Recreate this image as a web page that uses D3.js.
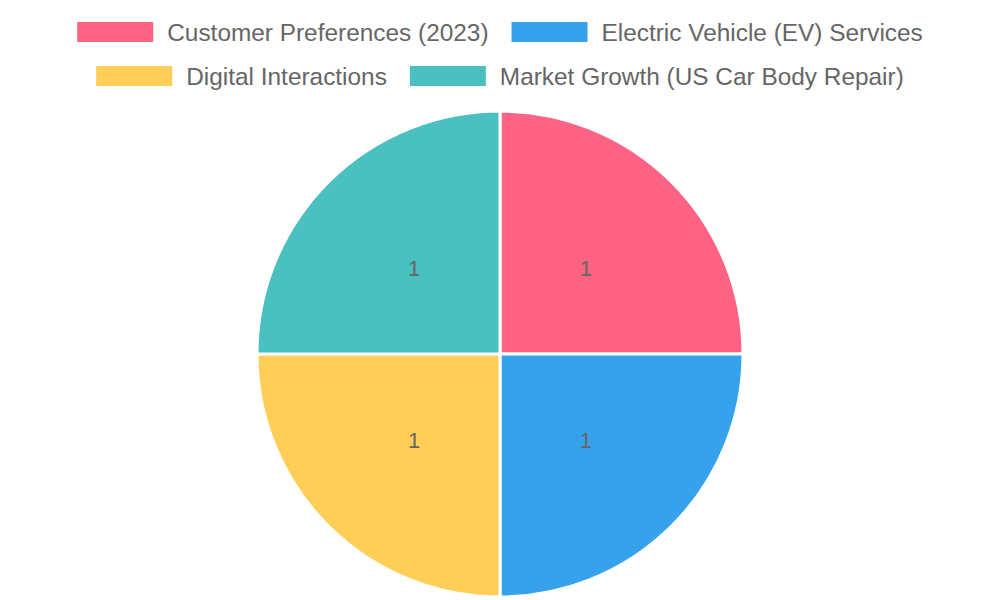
<!DOCTYPE html>
<html>
<head>
<meta charset="utf-8">
<script src="https://cdn.jsdelivr.net/npm/d3@7"></script>
<style>
  body { margin: 0; background: #fff; }
  svg { display: block; }
  text { font-family: "Liberation Sans", Arial, sans-serif; fill: #666; }
</style>
</head>
<body>
<script>
var labels = ["Customer Preferences (2023)", "Electric Vehicle (EV) Services", "Digital Interactions", "Market Growth (US Car Body Repair)"];
var values = [1, 1, 1, 1];
var colors = ["#FF6384", "#36A2EB", "#FFCE56", "#4BC0C0"];

var width = 1000, height = 600;
var boxW = 76, boxH = 20, boxGap = 14, itemGap = 23, rowH = 44, fontSize = 24.4;
var cx = 500, cy = 354, radius = 243;

var svg = d3.select("body").append("svg")
    .attr("width", width)
    .attr("height", height);

// legend, wrapped in centered rows
var legend = svg.append("g");
var items = legend.selectAll("g")
    .data(labels)
    .enter()
    .append("g");

items.append("rect")
    .attr("width", boxW)
    .attr("height", boxH)
    .attr("y", -boxH / 2)
    .attr("fill", function(d, i) { return colors[i]; });

items.append("text")
    .attr("x", boxW + boxGap)
    .attr("dy", "0.35em")
    .style("font-size", fontSize + "px")
    .text(function(d) { return d; });

var rows = [[]], rowW = [0];
items.each(function(d, i) {
    var w = boxW + boxGap + this.querySelector("text").getComputedTextLength();
    var r = rows.length - 1;
    var add = rows[r].length ? itemGap + w : w;
    if (rowW[r] + add > width - 40) {
        rows.push([]); rowW.push(0); r++; add = w;
    }
    rows[r].push({node: this, w: w});
    rowW[r] += add;
});

rows.forEach(function(row, r) {
    var x = (width - rowW[r]) / 2;
    row.forEach(function(it) {
        d3.select(it.node).attr("transform", "translate(" + x + "," + (32 + r * rowH) + ")");
        x += it.w + itemGap;
    });
});

// pie
var pie = d3.pie().sort(null).value(function(d) { return d; });
var arc = d3.arc().innerRadius(0).outerRadius(radius);
var labelArc = d3.arc().innerRadius(radius / 2).outerRadius(radius / 2);

var g = svg.append("g")
    .attr("transform", "translate(" + cx + "," + cy + ")");

var slices = pie(values);

g.selectAll("path")
    .data(slices)
    .enter()
    .append("path")
    .attr("d", arc)
    .attr("fill", function(d, i) { return colors[i]; })
    .attr("stroke", "#fff")
    .attr("stroke-width", 3);

g.selectAll("text.val")
    .data(slices)
    .enter()
    .append("text")
    .attr("class", "val")
    .attr("transform", function(d) { return "translate(" + labelArc.centroid(d) + ")"; })
    .attr("text-anchor", "middle")
    .attr("dy", "0.35em")
    .style("font-size", "22px")
    .text(function(d) { return d.data; });
</script>
</body>
</html>
